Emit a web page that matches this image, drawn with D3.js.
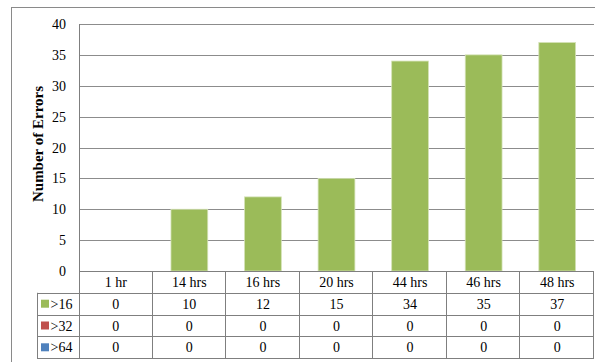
<!DOCTYPE html>
<html>
<head>
<meta charset="utf-8">
<script src="https://cdn.jsdelivr.net/npm/d3@7"></script>
<style>
    body { margin: 0; background: #fff; }
    svg text { font-family: "Liberation Serif", "Times New Roman", serif; fill: #000; }
</style>
</head>
<body>
<div id="chart"></div>
<script>
// data
const categories = ["1 hr", "14 hrs", "16 hrs", "20 hrs", "44 hrs", "46 hrs", "48 hrs"];
const seriesNames = [">16", ">32", ">64"];
const seriesColors = ["#9BBB59", "#C0504D", "#4F81BD"];
const values16 = [0, 10, 12, 15, 34, 35, 37];
const values32 = [0, 0, 0, 0, 0, 0, 0];
const values64 = [0, 0, 0, 0, 0, 0, 0];
const yTicks = [0, 5, 10, 15, 20, 25, 30, 35, 40];

const series = [values16, values32, values64];

const width = 595, height = 362;
const plot = { left: 79, right: 594, top: 24, bottom: 271 };
const rowH = 21.8;
const legendLeft = 37;
const fontSize = 14;

const svg = d3.select("#chart").append("svg")
    .attr("width", width)
    .attr("height", height);

// outer frame (cropped at right/bottom)
svg.append("rect")
    .attr("x", 11.5).attr("y", 7.5)
    .attr("width", 620).attr("height", 400)
    .attr("fill", "none")
    .attr("stroke", "#8a8a8a");

const x = d3.scaleBand()
    .domain(categories)
    .range([plot.left, plot.right])
    .paddingInner(0.5)
    .paddingOuter(0.25);

const xCell = d3.scaleBand()
    .domain(categories)
    .range([plot.left, plot.right]);

const y = d3.scaleLinear()
    .domain([0, 40])
    .range([plot.bottom, plot.top]);

// gridlines
svg.append("g")
    .selectAll("line")
    .data(yTicks.filter(d => d > 0))
    .join("line")
    .attr("x1", plot.left).attr("x2", plot.right)
    .attr("y1", d => Math.round(y(d)) + 0.5)
    .attr("y2", d => Math.round(y(d)) + 0.5)
    .attr("stroke", "#8c8c8c");

// y tick labels
svg.append("g")
    .selectAll("text")
    .data(yTicks)
    .join("text")
    .attr("x", 66)
    .attr("y", d => y(d) + 5)
    .attr("text-anchor", "end")
    .attr("font-size", fontSize)
    .text(d => d);

// axis title
svg.append("text")
    .attr("transform", "translate(43,144) rotate(-90)")
    .attr("text-anchor", "middle")
    .attr("font-size", 15)
    .attr("font-weight", "bold")
    .text("Number of Errors");

// bars
svg.append("g")
    .selectAll("rect")
    .data(values16)
    .join("rect")
    .attr("x", (d, i) => x(categories[i]))
    .attr("width", x.bandwidth())
    .attr("y", d => y(d))
    .attr("height", d => y(0) - y(d))
    .attr("fill", seriesColors[0])
    .attr("stroke", "#d4e2b6")
    .attr("stroke-width", 0.8);

// data table
const tableTop = plot.bottom;
const tableBottom = tableTop + rowH * 4;
const lineColor = "#7f7f7f";
const grid = svg.append("g").attr("stroke", lineColor).attr("fill", "none");

// horizontal lines
[0, 1, 2, 3, 4].forEach(r => {
    let yy = Math.round(tableTop + r * rowH) + 0.5;
    grid.append("line")
        .attr("x1", r === 0 ? plot.left : legendLeft)
        .attr("x2", plot.right)
        .attr("y1", yy).attr("y2", yy);
});

// vertical lines
grid.append("line")
    .attr("x1", legendLeft + 0.5).attr("x2", legendLeft + 0.5)
    .attr("y1", tableTop + rowH).attr("y2", tableBottom);
grid.append("line")
    .attr("x1", plot.left + 0.5).attr("x2", plot.left + 0.5)
    .attr("y1", plot.top).attr("y2", tableBottom);
categories.forEach(c => {
    let xx = Math.round(xCell(c) + xCell.bandwidth()) - 0.5;
    grid.append("line")
        .attr("x1", xx).attr("x2", xx)
        .attr("y1", tableTop).attr("y2", tableBottom);
});

// header labels
svg.append("g")
    .selectAll("text")
    .data(categories)
    .join("text")
    .attr("x", d => xCell(d) + xCell.bandwidth() / 2)
    .attr("y", tableTop + rowH / 2 + 5)
    .attr("text-anchor", "middle")
    .attr("font-size", fontSize)
    .text(d => d);

// rows
series.forEach((vals, r) => {
    let cy = tableTop + rowH * (r + 1) + rowH / 2;
    svg.append("rect")
        .attr("x", 41).attr("y", cy - 4)
        .attr("width", 8).attr("height", 8)
        .attr("fill", seriesColors[r]);
    svg.append("text")
        .attr("x", 50.5).attr("y", cy + 5)
        .attr("font-size", fontSize)
        .text(seriesNames[r]);
    svg.append("g")
        .selectAll("text")
        .data(vals)
        .join("text")
        .attr("x", (d, i) => xCell(categories[i]) + xCell.bandwidth() / 2)
        .attr("y", cy + 5)
        .attr("text-anchor", "middle")
        .attr("font-size", fontSize)
        .text(d => d);
});
</script>
</body>
</html>
